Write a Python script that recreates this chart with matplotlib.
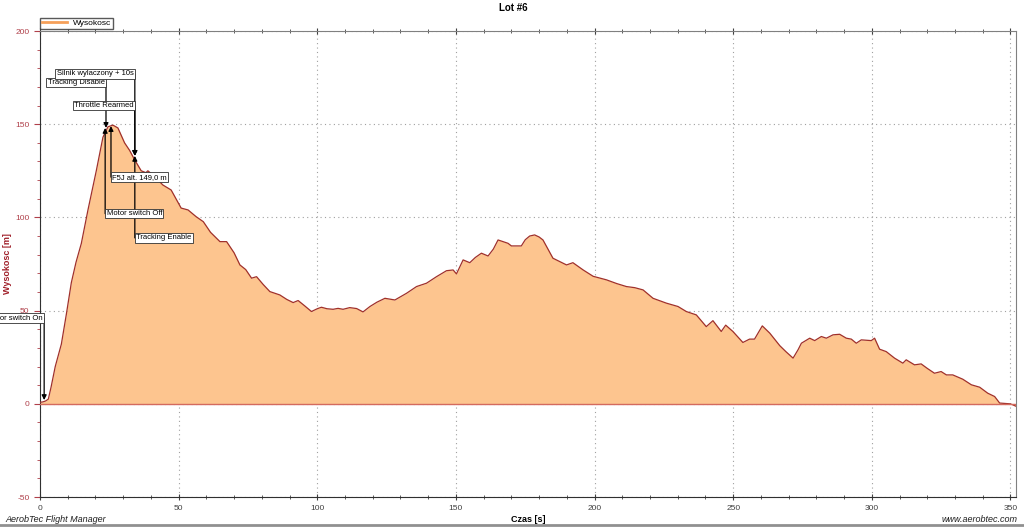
import matplotlib
matplotlib.use('Agg')
import matplotlib.pyplot as plt
from matplotlib.ticker import MultipleLocator

plt.rcParams['font.family'] = ['Liberation Sans', 'DejaVu Sans']
plt.rcParams['axes.unicode_minus'] = False

# altitude profile
t = [0, 1, 2, 3, 4, 5.5, 7.7, 9.5, 11.3, 13,
     14.9, 17.3, 20.3, 22.7, 24.5, 26.3, 28.1, 30.5, 32.3, 34.1,
     36.5, 38.2, 38.9, 41.3, 44.3, 47.3, 50.9, 53.4, 56.3, 58.9,
     61.5, 64.9, 67.3, 70, 72.1, 74.2, 76.3, 78.1, 80.5, 82.9,
     86.5, 89, 91.3, 93.1, 95.5, 97.9, 100, 101.5, 103.5, 105.7,
     107.5, 109.3, 111.7, 114.2, 116.5, 119, 121.5, 124.4, 128, 132.2,
     135.8, 139.4, 143, 146.6, 149, 150.2, 152.6, 155, 157, 159.2,
     161.6, 163.5, 165.2, 168.8, 170, 173.6, 175, 176.6, 178.4, 180,
     181.4, 183.2, 185, 186.8, 189.9, 192.2, 195.9, 199.5, 204.3, 208,
     211.5, 214.5, 217.5, 221.1, 225.9, 230.1, 233.1, 236.7, 240.3, 242.7,
     245.7, 247.3, 249.9, 253.5, 255.9, 257.7, 260.5, 263.2, 266.8, 269,
     271.6, 273.4, 274.6, 277.6, 279.4, 281.8, 283.6, 286, 288.4, 290.8,
     292.6, 294.4, 296.2, 299.8, 301, 302.8, 305.2, 308.2, 311.2, 312.4,
     315.4, 317.8, 320, 322.6, 325, 326.9, 329.2, 332.8, 335.9, 338.9,
     341.8, 344.3, 346.1, 349.7, 350.8, 351.8]
h = [0.8, 1.0, 1.5, 2.5, 9, 20, 32, 48, 65, 76,
     86, 104, 125, 143, 148.6, 149.5, 148, 140, 136, 131,
     125, 124, 125, 122, 117.4, 114.7, 105, 104, 100.4, 97.7,
     92, 87, 87, 81, 74.5, 72, 67.4, 68.2, 64, 60.2,
     58.4, 56, 54.3, 55.4, 52.5, 49.5, 51, 51.8, 51, 50.7,
     51.2, 50.7, 51.6, 51.1, 49.3, 52.2, 54.5, 56.6, 55.7, 59.3,
     62.9, 64.7, 68.2, 71.4, 71.8, 69.7, 77.2, 75.7, 78.5, 80.8,
     79.3, 83, 87.9, 86.1, 84.7, 84.7, 88, 90, 90.6, 89.5,
     87.9, 83, 78.1, 76.8, 74.5, 75.7, 71.8, 68.4, 66.5, 64.5,
     62.9, 62.3, 61.1, 56.6, 54, 52.2, 49.5, 47.7, 41.4, 44.6,
     38.8, 42.2, 38.8, 32.9, 34.7, 34.7, 41.8, 37.9, 31.2, 28,
     24.5, 29, 32.5, 35.2, 33.9, 36.1, 35.2, 37, 37.3, 35.2,
     34.7, 32.5, 34.3, 33.9, 35.2, 29.3, 28, 24.5, 21.8, 23.6,
     20.9, 21.4, 19, 16.4, 17.3, 15.5, 15.5, 13.2, 10.2, 8.9,
     5.7, 3.9, 0.4, 0, -0.5, -1.2]

# flight events
ev_labels = ['Motor switch On', 'Tracking Disable', 'Silnik wylaczony + 10s',
             'Throttle Rearmed', 'F5J alt. 149,0 m', 'Motor switch Off',
             'Tracking Enable']
ev_t = [1.5, 23.8, 34.2, 34.2, 25.6, 23.5, 34.2]
ev_alt = [2, 148, 133, 133, 149, 148, 133]
ev_text_y = [46, 172.5, 177, 160, 121.6, 102, 89]
ev_above = [True, True, True, True, False, False, False]

fig = plt.figure(figsize=(10.24, 5.27), dpi=100)
ax = fig.add_axes([40 / 1024, 30 / 527, 976 / 1024, 466 / 527])

ax.fill_between(t, h, 0, color='#FDC58F', lw=0, zorder=2)
ax.plot(t, h, color='#A0302A', lw=0.9, zorder=3, label='Wysokosc')
ax.axhline(0, color='#D46A5E', lw=1, zorder=3)

ax.set_xlim(0, 352)
ax.set_ylim(-50, 200)
ax.xaxis.set_major_locator(MultipleLocator(50))
ax.xaxis.set_minor_locator(MultipleLocator(10))
ax.yaxis.set_major_locator(MultipleLocator(50))
ax.yaxis.set_minor_locator(MultipleLocator(10))
ax.grid(True, which='major', color='#A0A0A0', ls=(0, (1, 3)), lw=0.8, zorder=1)

red = '#B0404A'
ax.tick_params(axis='y', which='both', colors=red, labelsize=6, direction='out')
ax.tick_params(axis='y', which='major', length=4)
ax.tick_params(axis='y', which='minor', length=2)
ax.tick_params(axis='x', which='both', colors='#404040', labelsize=6,
               direction='inout', top=True)
ax.tick_params(axis='x', which='major', length=5)
ax.tick_params(axis='x', which='minor', length=3)
for s in ['top', 'right']:
    ax.spines[s].set_color('#808080')
ax.spines['left'].set_color('#303030')
ax.spines['bottom'].set_color('#303030')

fig.text(8 / 1024, 1 - 264 / 527, 'Wysokosc [m]', color='#A0202A', fontsize=6.5,
         fontweight='bold', rotation=90, va='center', ha='center')
fig.text(528 / 1024, 1 - 519 / 527, 'Czas [s]', fontsize=6.5,
         fontweight='bold', va='center', ha='center')
fig.text(513 / 1024, 1 - 8 / 527, 'Lot #6', fontsize=7,
         fontweight='bold', va='center', ha='center')

box = dict(boxstyle='square,pad=0.15', fc='white', ec='#303030', lw=0.6)
for lab, x, a, ty, up in zip(ev_labels, ev_t, ev_alt, ev_text_y, ev_above):
    ax.annotate('', xy=(x, a), xytext=(x, ty),
                arrowprops=dict(arrowstyle='-|>', color='black', lw=0.9,
                                shrinkA=0, shrinkB=0, mutation_scale=7),
                zorder=5, annotation_clip=False)
    ax.annotate(lab, xy=(x, ty), xytext=(-1 if up else 1, 0),
                textcoords='offset points', ha='right' if up else 'left',
                va='center', fontsize=5.5, bbox=box, zorder=6,
                annotation_clip=False)

leg = ax.legend(loc='lower left', bbox_to_anchor=(0, 1.005), fontsize=6,
                frameon=True, fancybox=False, edgecolor='#303030',
                handlelength=3, borderpad=0.2, borderaxespad=0)
leg.get_lines()[0].set_color('#F5A05A')
leg.get_lines()[0].set_linewidth(2)

fig.text(5 / 1024, 1 - 520 / 527, 'AerobTec Flight Manager', fontsize=6.5,
         style='italic', va='center', ha='left', color='#202020')
fig.text(1018 / 1024, 1 - 520 / 527, 'www.aerobtec.com', fontsize=6.5,
         style='italic', va='center', ha='right', color='#202020')
fig.add_artist(plt.Line2D([0, 1], [2 / 527, 2 / 527], color='#909090', lw=2))

fig.savefig('out.png', dpi=100)
